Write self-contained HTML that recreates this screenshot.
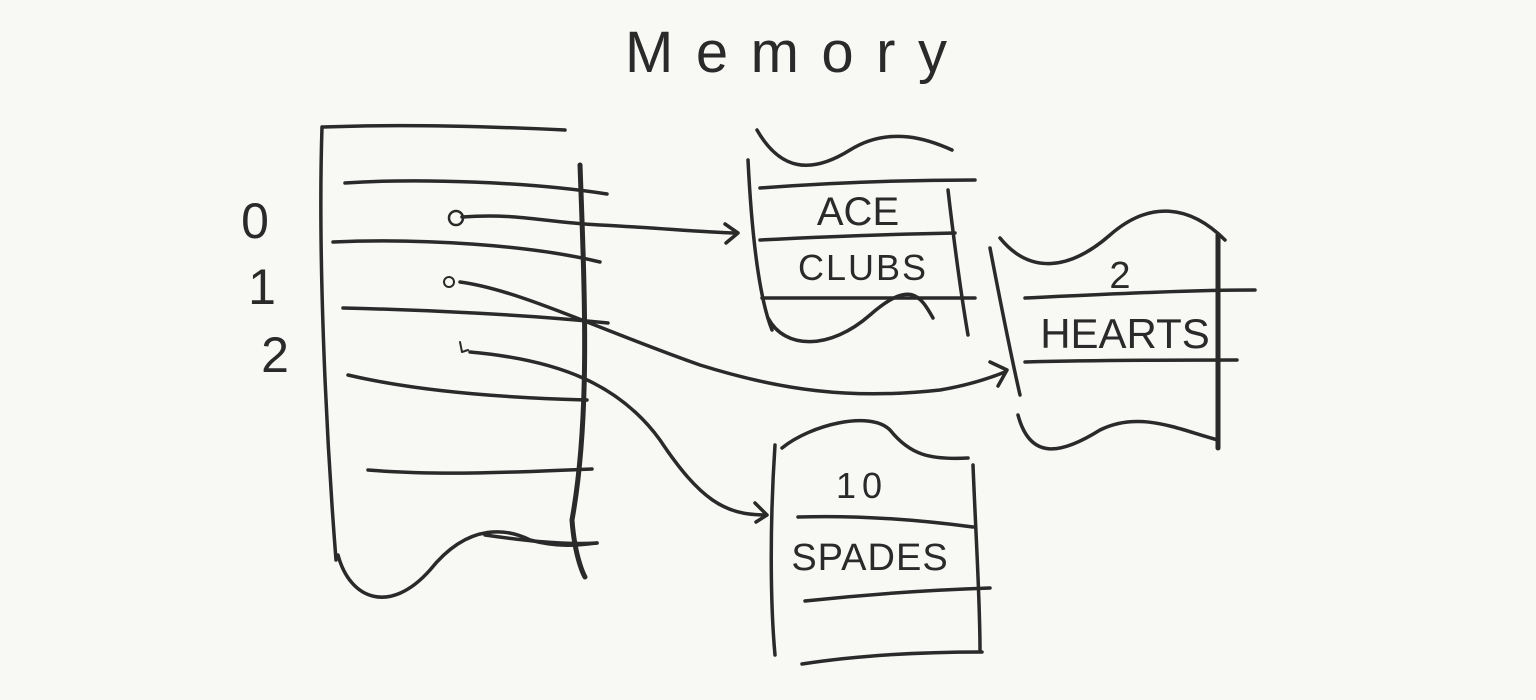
<!DOCTYPE html>
<html><head><meta charset="utf-8"><style>
html,body{margin:0;padding:0;background:#f8f8f4;}
svg{display:block}
text{font-family:"Liberation Sans",sans-serif;fill:#2a2a2a;}
</style></head><body>
<svg width="1536" height="700" viewBox="0 0 1536 700">
<g fill="none" stroke="#2a2a2a" stroke-width="3.5" stroke-linecap="round" stroke-linejoin="round">
<path d="M323,127 C400,124 480,126 565,130"/>
<path d="M322,127 C318,250 325,420 336,560"/>
<path d="M338,555 C350,600 390,615 430,570 C470,520 510,530 530,540 C560,548 580,545 597,543"/>
<path d="M580,165 C585,300 590,420 572,520 C575,560 585,577 585,577" stroke-width="5"/>
<path d="M345,183 C420,178 530,182 607,194"/>
<path d="M333,242 C420,238 530,245 600,262"/>
<path d="M343,308 C430,310 530,315 608,323"/>
<path d="M348,375 C420,392 510,398 587,400"/>
<path d="M368,470 C440,476 520,472 592,469"/>
<path d="M485,535 C520,540 560,545 597,543"/>
<circle cx="456" cy="218" r="7" stroke-width="2.5"/>
<circle cx="449" cy="282" r="5" stroke-width="2"/>
<path d="M460,342 L462,352 L468,350" stroke-width="2"/>
<path d="M462,217 C520,213 540,222 600,225 C660,228 700,232 735,233"/>
<path d="M725,224 L738,233 L726,243"/>
<path d="M460,282 C520,290 600,330 700,365 C780,390 850,400 940,390 C970,385 990,378 1005,372"/>
<path d="M990,362 L1007,370 L998,386"/>
<path d="M470,352 C560,360 620,385 660,440 C700,500 725,515 765,515"/>
<path d="M755,503 L767,515 L756,522"/>
<path d="M757,130 C780,170 810,175 850,150 C890,125 930,140 952,150"/>
<path d="M748,160 C752,240 760,300 772,330"/>
<path d="M948,190 C955,250 962,300 968,335"/>
<path d="M760,188 C840,182 920,180 975,180"/>
<path d="M760,240 C840,236 900,234 955,233"/>
<path d="M762,298 C840,298 920,298 975,298"/>
<path d="M768,318 C785,350 830,350 870,315 C910,280 920,295 933,318"/>
<path d="M990,248 C1000,300 1012,360 1020,395"/>
<path d="M1218,235 L1218,448" stroke-width="5"/>
<path d="M1000,238 C1030,275 1070,270 1110,235 C1150,200 1190,205 1225,240"/>
<path d="M1025,298 C1110,294 1190,290 1255,290"/>
<path d="M1025,362 C1100,360 1180,360 1237,360"/>
<path d="M1018,415 C1030,460 1060,455 1100,430 C1140,410 1180,430 1218,440"/>
<path d="M782,448 C810,425 870,410 890,430 C910,455 930,460 968,458"/>
<path d="M775,445 C770,520 770,600 775,655"/>
<path d="M973,465 C976,540 980,600 980,650"/>
<path d="M798,517 C860,515 920,520 973,527"/>
<path d="M805,601 C870,594 930,590 990,588"/>
<path d="M802,664 C860,655 920,652 982,652"/>
</g>
<text x="625" y="72" font-size="58" textLength="322" lengthAdjust="spacing">Memory</text>
<text x="255" y="238" font-size="50" text-anchor="middle">0</text>
<text x="262" y="304" font-size="50" text-anchor="middle">1</text>
<text x="275" y="372" font-size="50" text-anchor="middle">2</text>
<text x="858" y="225" font-size="40" text-anchor="middle">ACE</text>
<text x="863" y="280" font-size="36" text-anchor="middle" letter-spacing="2">CLUBS</text>
<text x="1120" y="288" font-size="38" text-anchor="middle">2</text>
<text x="1125" y="348" font-size="42" text-anchor="middle">HEARTS</text>
<text x="862" y="498" font-size="36" text-anchor="middle" letter-spacing="6">10</text>
<text x="870" y="570" font-size="38" text-anchor="middle" letter-spacing="1">SPADES</text>
</svg>
</body></html>
